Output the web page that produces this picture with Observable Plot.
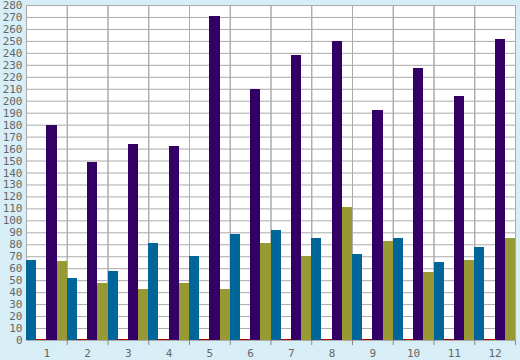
<!DOCTYPE html>
<html>
<head>
<meta charset="utf-8">
<script src="https://cdn.jsdelivr.net/npm/d3@7"></script>
<script src="https://cdn.jsdelivr.net/npm/@observablehq/plot@0.6"></script>
<style>
  html, body { margin: 0; padding: 0; background: #d8eef6; overflow: hidden; }
  svg { display: block; }
</style>
</head>
<body>
<div id="chart"></div>
<script>
const groups = ["1","2","3","4","5","6","7","8","9","10","11","12"];
const seriesNames = ["S1","S2","S3","S4"];
const seriesColors = ["#006699","#aa0000","#330066","#999933"];
const s1 = [67, 52, 58, 81, 70, 89, 92, 85, 72, 85, 65, 78];
const s2 = [1, 1, 1, 1, 1, 1, 1, 1, 1, 1, 1, 1];
const s3 = [180, 149, 164, 162, 271, 210, 238, 250, 192, 227, 204, 252];
const s4 = [66, 48, 43, 48, 43, 81, 70, 111, 83, 57, 67, 85];
const yTicks = d3.range(0, 281, 10);

const seriesValues = [s1, s2, s3, s4];
const table = groups.flatMap((g, i) =>
  seriesNames.map((s, j) => ({group: g, series: s, value: seriesValues[j][i]}))
);

const W = 520, ML = 26, MR = 5;
const half = (W - ML - MR) / groups.length / 2;

const chart = Plot.plot({
  width: W,
  height: 360,
  marginLeft: ML,
  marginRight: MR,
  marginTop: 5,
  marginBottom: 20,
  style: {background: "#d8eef6", fontFamily: "'DejaVu Sans Mono', monospace", fontSize: "11px", color: "#666"},
  fx: {domain: groups, padding: 0, round: false, label: null, axis: null},
  x: {domain: seriesNames, padding: 0, round: false, axis: null},
  y: {domain: [0, 280], axis: null, label: null},
  color: {domain: seriesNames, range: seriesColors},
  marks: [
    Plot.frame({fill: "white"}),
    Plot.gridY(yTicks, {stroke: "#aaa", strokeOpacity: 1}),
    Plot.frame({stroke: "#aaa"}),
    Plot.barY(table, {fx: "group", x: "series", y: "value", fill: "series", inset: 0, shapeRendering: "crispEdges"}),
    Plot.axisY(yTicks, {tickSize: 0, tickPadding: 4, fill: "#666", label: null}),
    Plot.axisFx({anchor: "bottom", tickSize: 0, tickPadding: 9, label: null, fill: "#666"}),
    Plot.axisFx({anchor: "bottom", tickSize: 5, tickFormat: () => "", dx: half, stroke: "#888", label: null})
  ]
});
document.getElementById("chart").appendChild(chart);
</script>
</body>
</html>
